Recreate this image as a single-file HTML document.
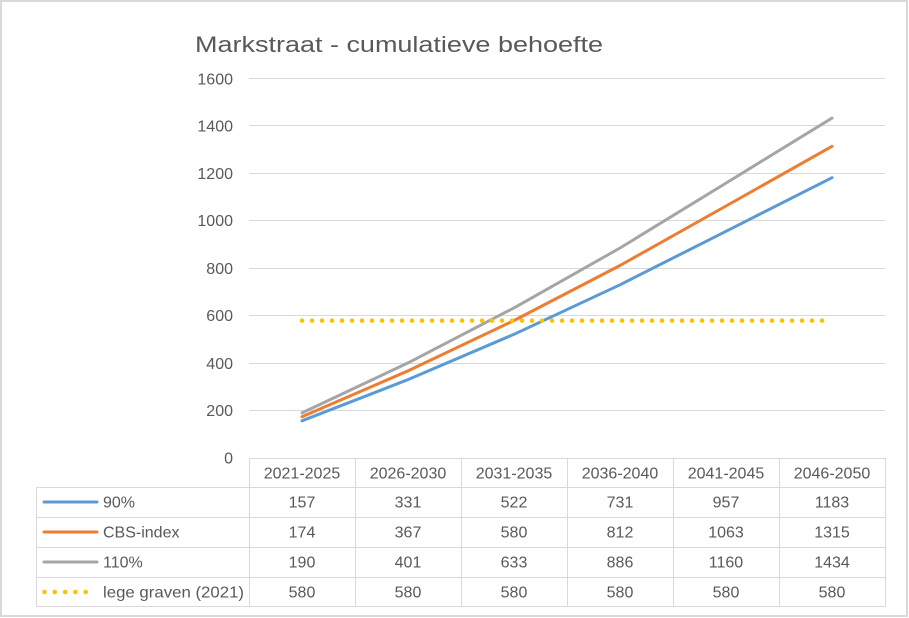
<!DOCTYPE html>
<html>
<head>
<meta charset="utf-8">
<style>
html,body{margin:0;padding:0;background:#fff;}
svg{display:block;}
text{font-family:"Liberation Sans",Arial,sans-serif;fill:#595959;}
</style>
</head>
<body>
<svg width="909" height="618" viewBox="0 0 909 618" xmlns="http://www.w3.org/2000/svg">
<rect x="0" y="0" width="909" height="618" fill="#fff"/>
<rect x="1" y="1" width="906" height="615" fill="none" stroke="#d9d9d9" stroke-width="2"/>

<!-- Title -->
<text x="195" y="52" font-size="22.5" textLength="408" lengthAdjust="spacingAndGlyphs">Markstraat - cumulatieve behoefte</text>

<!-- Gridlines -->
<g stroke="#d9d9d9" stroke-width="1">
<line x1="249" y1="78.5" x2="885" y2="78.5"/>
<line x1="249" y1="125.5" x2="885" y2="125.5"/>
<line x1="249" y1="173.5" x2="885" y2="173.5"/>
<line x1="249" y1="220.5" x2="885" y2="220.5"/>
<line x1="249" y1="268.5" x2="885" y2="268.5"/>
<line x1="249" y1="315.5" x2="885" y2="315.5"/>
<line x1="249" y1="363.5" x2="885" y2="363.5"/>
<line x1="249" y1="410.5" x2="885" y2="410.5"/>
</g>

<!-- Y labels -->
<g font-size="16" text-anchor="end">
<text x="233" y="84.5">1600</text>
<text x="233" y="131.5">1400</text>
<text x="233" y="179">1200</text>
<text x="233" y="226">1000</text>
<text x="233" y="274">800</text>
<text x="233" y="321">600</text>
<text x="233" y="369">400</text>
<text x="233" y="416">200</text>
<text x="233" y="463.5">0</text>
</g>

<!-- Series -->
<polyline points="302,420.8 408,379.6 514,334.3 620,284.8 726,231.3 832,177.7" fill="none" stroke="#5B9BD5" stroke-width="3" stroke-linejoin="round" stroke-linecap="round"/>
<polyline points="302,416.7 408,370.9 514,320.5 620,265.5 726,206.0 832,146.3" fill="none" stroke="#ED7D31" stroke-width="3" stroke-linejoin="round" stroke-linecap="round"/>
<polyline points="302,412.9 408,362.9 514,307.9 620,248.0 726,183.1 832,118.1" fill="none" stroke="#A5A5A5" stroke-width="3" stroke-linejoin="round" stroke-linecap="round"/>
<line x1="302" y1="320.6" x2="823" y2="320.6" stroke="#FFC000" stroke-width="4.5" stroke-linecap="round" stroke-dasharray="0 10"/>

<!-- Table grid -->
<g stroke="#d9d9d9" stroke-width="1" fill="none">
<line x1="249" y1="458.5" x2="885" y2="458.5"/>
<line x1="36" y1="487.5" x2="885" y2="487.5"/>
<line x1="36" y1="517.5" x2="885" y2="517.5"/>
<line x1="36" y1="547.5" x2="885" y2="547.5"/>
<line x1="36" y1="577.5" x2="885" y2="577.5"/>
<line x1="36" y1="606.5" x2="885" y2="606.5"/>
<line x1="36.5" y1="487" x2="36.5" y2="607"/>
<line x1="249.5" y1="458" x2="249.5" y2="607"/>
<line x1="355.5" y1="458" x2="355.5" y2="607"/>
<line x1="461.5" y1="458" x2="461.5" y2="607"/>
<line x1="567.5" y1="458" x2="567.5" y2="607"/>
<line x1="673.5" y1="458" x2="673.5" y2="607"/>
<line x1="779.5" y1="458" x2="779.5" y2="607"/>
<line x1="885.5" y1="458" x2="885.5" y2="607"/>
</g>

<!-- Header -->
<g font-size="16" text-anchor="middle">
<text x="302" y="478.5">2021-2025</text>
<text x="408" y="478.5">2026-2030</text>
<text x="514" y="478.5">2031-2035</text>
<text x="620" y="478.5">2036-2040</text>
<text x="726" y="478.5">2041-2045</text>
<text x="832" y="478.5">2046-2050</text>
</g>

<!-- Legend keys -->
<line x1="44" y1="502" x2="97" y2="502" stroke="#5B9BD5" stroke-width="3" stroke-linecap="round"/>
<line x1="44" y1="532" x2="97" y2="532" stroke="#ED7D31" stroke-width="3" stroke-linecap="round"/>
<line x1="44" y1="562" x2="97" y2="562" stroke="#A5A5A5" stroke-width="3" stroke-linecap="round"/>
<line x1="44.5" y1="592" x2="96" y2="592" stroke="#FFC000" stroke-width="4.5" stroke-linecap="round" stroke-dasharray="0 10.3"/>

<g font-size="16">
<text x="103" y="507.5">90%</text>
<text x="103" y="537.5">CBS-index</text>
<text x="103" y="567.5">110%</text>
<text x="103" y="597.5" textLength="141" lengthAdjust="spacingAndGlyphs">lege graven (2021)</text>
</g>

<!-- Values -->
<g font-size="16" text-anchor="middle">
<text x="302" y="507.5">157</text><text x="408" y="507.5">331</text><text x="514" y="507.5">522</text><text x="620" y="507.5">731</text><text x="726" y="507.5">957</text><text x="832" y="507.5">1183</text>
<text x="302" y="537.5">174</text><text x="408" y="537.5">367</text><text x="514" y="537.5">580</text><text x="620" y="537.5">812</text><text x="726" y="537.5">1063</text><text x="832" y="537.5">1315</text>
<text x="302" y="567.5">190</text><text x="408" y="567.5">401</text><text x="514" y="567.5">633</text><text x="620" y="567.5">886</text><text x="726" y="567.5">1160</text><text x="832" y="567.5">1434</text>
<text x="302" y="597.5">580</text><text x="408" y="597.5">580</text><text x="514" y="597.5">580</text><text x="620" y="597.5">580</text><text x="726" y="597.5">580</text><text x="832" y="597.5">580</text>
</g>
</svg>
</body>
</html>
